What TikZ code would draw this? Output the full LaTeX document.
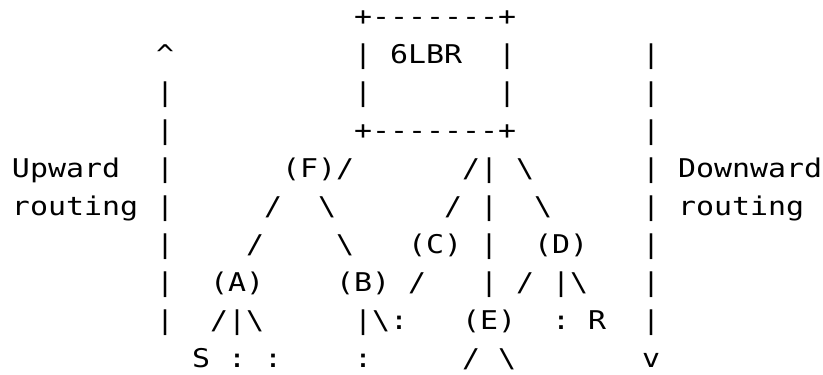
\documentclass[tikz,border=0pt]{standalone}
\usepackage{fontspec}
% slightly widened mono face: 18pt cells with a moderate cap height
\setmonofont[FakeStretch=1.16]{DejaVu Sans Mono}
\newcommand\artfont{\ttfamily\fontsize{25.8}{38}\selectfont}
\newcommand\bs{\textbackslash}
\tikzset{
  art/.style={anchor=base west, inner sep=0pt, outer sep=0pt, font=\artfont, text=black}
}
\begin{document}
% one unit in x is a character cell, one unit in y is a text line
\begin{tikzpicture}[x=18pt, y=-38pt]
\fill[white] (0pt,0pt) rectangle (823pt,-375pt);
\useasboundingbox (0pt,0pt) rectangle (823pt,-375pt);
\begin{scope}[shift={(12pt,-25pt)}]
  % line 1
  \node[art] (boxtop) at (19,0) {+-------+};
  % line 2
  \node[art] (uptip) at (8,1) {\textasciicircum};
  \node[art] (boxl2) at (19,1) {|};
  \node[art] (lbr) at (21,1) {6LBR};
  \node[art] (boxr2) at (27,1) {|};
  \node[art] (down2) at (35,1) {|};
  % line 3
  \node[art] (up3) at (8,2) {|};
  \node[art] (boxl3) at (19,2) {|};
  \node[art] (boxr3) at (27,2) {|};
  \node[art] (down3) at (35,2) {|};
  % line 4
  \node[art] (up4) at (8,3) {|};
  \node[art] (boxbot) at (19,3) {+-------+};
  \node[art] (down4) at (35,3) {|};
  % line 5
  \node[art] (uplabel) at (0,4) {Upward};
  \node[art] (up5) at (8,4) {|};
  \node[art] (nodeF) at (15,4) {(F)/};
  \node[art] (root5a) at (25,4) {/|};
  \node[art] (root5b) at (28,4) {\bs};
  \node[art] (down5) at (35,4) {|};
  \node[art] (downlabel) at (37,4) {Downward};
  % line 6
  \node[art] (uprouting) at (0,5) {routing};
  \node[art] (up6) at (8,5) {|};
  \node[art] (f6l) at (14,5) {/};
  \node[art] (f6r) at (17,5) {\bs};
  \node[art] (r6l) at (24,5) {/};
  \node[art] (r6m) at (26,5) {|};
  \node[art] (r6r) at (29,5) {\bs};
  \node[art] (down6) at (35,5) {|};
  \node[art] (downrouting) at (37,5) {routing};
  % line 7
  \node[art] (up7) at (8,6) {|};
  \node[art] (f7l) at (13,6) {/};
  \node[art] (f7r) at (18,6) {\bs};
  \node[art] (nodeC) at (22,6) {(C)};
  \node[art] (r7m) at (26,6) {|};
  \node[art] (nodeD) at (29,6) {(D)};
  \node[art] (down7) at (35,6) {|};
  % line 8
  \node[art] (up8) at (8,7) {|};
  \node[art] (nodeA) at (11,7) {(A)};
  \node[art] (nodeB) at (18,7) {(B)};
  \node[art] (c8) at (22,7) {/};
  \node[art] (r8m) at (26,7) {|};
  \node[art] (d8l) at (28,7) {/};
  \node[art] (d8r) at (30,7) {|\bs};
  \node[art] (down8) at (35,7) {|};
  % line 9
  \node[art] (up9) at (8,8) {|};
  \node[art] (a9) at (11,8) {/|\bs};
  \node[art] (b9) at (19,8) {|\bs:};
  \node[art] (nodeE) at (25,8) {(E)};
  \node[art] (d9) at (30,8) {:};
  \node[art] (nodeR) at (32,8) {R};
  \node[art] (down9) at (35,8) {|};
  % line 10
  \node[art] (nodeS) at (10,9) {S};
  \node[art] (a10m) at (12,9) {:};
  \node[art] (a10r) at (14,9) {:};
  \node[art] (b10) at (19,9) {:};
  \node[art] (e10l) at (25,9) {/};
  \node[art] (e10r) at (27,9) {\bs};
  \node[art] (downtip) at (35,9) {v};
\end{scope}
\end{tikzpicture}
\end{document}
